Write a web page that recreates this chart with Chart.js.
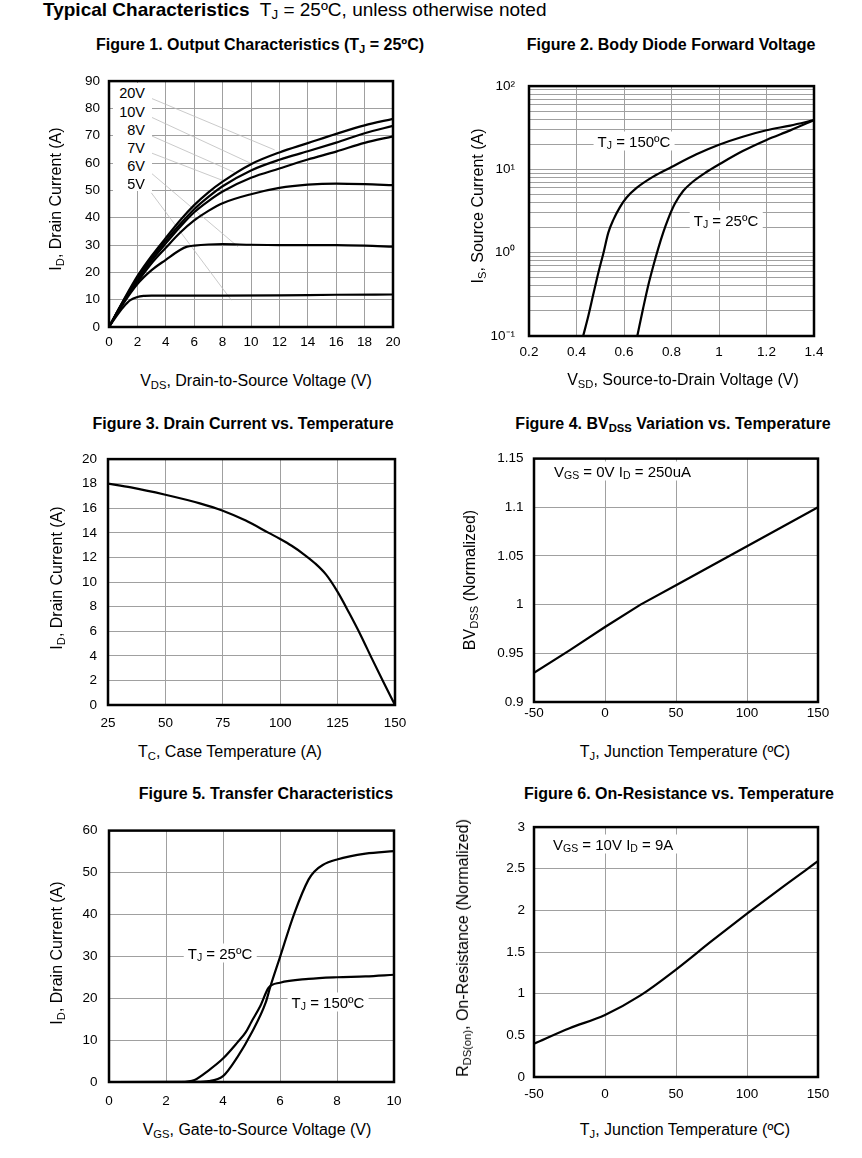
<!DOCTYPE html>
<html><head><meta charset="utf-8">
<script src="https://cdn.jsdelivr.net/npm/chart.js@4.4.1/dist/chart.umd.min.js"></script>
<style>
html,body{margin:0;padding:0;background:#fff;}
body{width:862px;height:1158px;position:relative;overflow:hidden;font-family:"Liberation Sans",Arial,Helvetica,sans-serif;color:#000;}
canvas{position:absolute;}
.t{position:absolute;white-space:nowrap;line-height:1;}
.c{transform:translate(-50%,-50%);}
.l{transform:translate(0,-50%);}
.r{transform:translate(-100%,-50%);}
.rot{transform:translate(-50%,-50%) rotate(-90deg);}
.ft{font-weight:bold;font-size:16px;}
.ax{font-size:16px;}
.an{font-size:15px;background:#fff;padding:2px 4px;}
.lab{font-size:14.5px;}
sub{font-size:0.7em;vertical-align:-0.28em;line-height:0;}
.box{position:absolute;background:#fff;}
</style></head><body>
<div id="charts"></div>

<script>
// ---------------- DATA ----------------
// Figure 1 – Output characteristics
const fig1X   = [0,1,2,3,4,5,6,7,8,10,12,14,16,18,20];
const fig1Id20 = [0,9.6,18.6,26.0,32.6,39.0,44.6,49.3,53.2,59.6,63.9,67.3,70.7,73.8,76.2];
const fig1Id10 = [0,9.4,17.8,25.2,31.6,37.6,43.1,47.6,51.5,57.3,61.2,64.3,67.5,70.9,73.6];
const fig1Id8  = [0,9.2,17.1,24.3,30.6,36.6,42.0,46.1,49.6,54.6,58.0,61.3,64.2,67.4,69.8];
const fig1Id7  = [0,9.0,16.4,23.3,29.0,34.5,39.0,42.5,45.3,48.6,50.9,52.1,52.5,52.3,51.9];
const fig1X6   = [0,1,2,3,4,5,5.5,6,7,8,10,12,14,16,18,20];
const fig1Id6  = [0,8.5,15.7,20.8,24.6,28.2,29.4,29.8,30.2,30.3,30.1,30.0,30.0,30.0,29.8,29.4];
const fig1X5   = [0,0.5,1,1.5,2,2.5,3,4,8,12,16,20];
const fig1Id5  = [0,3.8,7.2,9.8,11.0,11.4,11.5,11.5,11.5,11.6,11.8,11.9];
const fig1Labels = ['20V','10V','8V','7V','6V','5V'];
const fig1LeaderStartX = 2.98;
const fig1LeaderStartY = [83.7,76.8,70.0,63.7,56.3,49.1];
const fig1LeaderEndX   = [11.67,10.03,8.97,8.03,9.08,8.62];
const fig1LeaderEndY   = [64.8,59.8,56.3,53.6,29.4,9.8];
const fig1XTicks = [0,2,4,6,8,10,12,14,16,18,20];
const fig1YTicks = [0,10,20,30,40,50,60,70,80,90];

// Figure 2 – Body diode forward voltage
const fig2X150  = [0.428,0.45,0.47,0.492,0.513,0.534,0.555,0.583,0.611,0.653,0.723,0.80,0.905,1.0,1.1,1.2,1.3,1.4];
const fig2Is150 = [0.1,0.175,0.31,0.575,0.98,1.74,2.48,3.53,4.6,6.0,8.2,10.7,15.2,19.8,24.7,29.5,33.6,39];
const fig2X25   = [0.656,0.681,0.702,0.723,0.744,0.765,0.786,0.814,0.849,0.891,0.947,1.003,1.1,1.2,1.3,1.4];
const fig2Is25  = [0.1,0.218,0.404,0.687,1.12,1.74,2.55,3.86,5.5,7.16,9.3,11.6,16.6,22.6,29.4,39];
const fig2XTicks = [0.2,0.4,0.6,0.8,1.0,1.2,1.4];
const fig2YTicks = [0.1,0.2,0.3,0.4,0.5,0.6,0.7,0.8,0.9,1,2,3,4,5,6,7,8,9,10,20,30,40,50,60,70,80,90,100];
const fig2YLabels = {'0.1':'10\u207B\u00B9','1':'10\u2070','10':'10\u00B9','100':'10\u00B2'};

// Figure 3 – Drain current vs temperature
const fig3T  = [25,35,50,65,75,85,95,100,105,110,115,120,125,130,135,140,145,150];
const fig3Id = [18,17.7,17.1,16.4,15.8,15.0,14.0,13.5,12.95,12.3,11.55,10.6,9.2,7.5,5.7,3.75,1.85,0];
const fig3XTicks = [25,50,75,100,125,150];
const fig3YTicks = [0,2,4,6,8,10,12,14,16,18,20];

// Figure 4 – BVdss variation
const fig4T  = [-50,-25,0,25,50,75,100,125,150];
const fig4BV = [0.93,0.953,0.977,1.0,1.02,1.04,1.06,1.08,1.1];
const fig4XTicks = [-50,0,50,100,150];
const fig4YTicks = [0.9,0.95,1,1.05,1.1,1.15];

// Figure 5 – Transfer characteristics
const fig5V25   = [0,2.5,3,3.5,4,4.5,5,5.5,5.65,6,6.5,7,7.2,7.5,8,9,10];
const fig5Id25  = [0,0,0.02,0.2,1.4,5.9,11.7,19,22.5,29.8,40.2,48.3,50.2,51.8,53.1,54.5,55.1];
const fig5V150  = [0,2.5,3,3.5,4,4.5,4.8,5,5.3,5.6,6,7,8,9,10];
const fig5Id150 = [0,0.05,0.5,2.8,5.6,9.4,11.9,14.4,18.0,22.5,23.7,24.6,25.0,25.2,25.6];
const fig5XTicks = [0,2,4,6,8,10];
const fig5YTicks = [0,10,20,30,40,50,60];

// Figure 6 – On-resistance vs temperature
const fig6T = [-50,-25,0,25,50,75,100,125,150];
const fig6R = [0.4,0.585,0.745,0.98,1.29,1.63,1.96,2.28,2.59];
const fig6XTicks = [-50,0,50,100,150];
const fig6YTicks = [0,0.5,1,1.5,2,2.5,3];

// ---------------- DRAWING ----------------
const FONT = "'Liberation Sans', Arial, Helvetica, sans-serif";
const GRID = '#a0a0a0';
const fmt = v => String(Math.round(v * 1000) / 1000);
const pts = (xs, ys) => xs.map((x, i) => ({x: x, y: ys[i]}));
const curve = (xs, ys) => ({data: pts(xs, ys), borderColor: '#000', borderWidth: 2.2, pointRadius: 0, fill: false, cubicInterpolationMode: 'monotone'});

const framePlugin = {
  id: 'frame',
  afterDatasetsDraw(chart) {
    const a = chart.chartArea, ctx = chart.ctx;
    ctx.save();
    ctx.strokeStyle = '#000';
    ctx.lineWidth = 2.5;
    ctx.strokeRect(a.left, a.top, a.right - a.left, a.bottom - a.top);
    ctx.restore();
  }
};

function build(rect, o) {
  const YW = 70, XH = 36, PT = 12, PR = 28;
  const w = rect.r - rect.l + YW + PR, h = rect.b - rect.t + PT + XH;
  const cv = document.createElement('canvas');
  cv.width = w; cv.height = h;
  cv.style.left = (rect.l - YW) + 'px';
  cv.style.top = (rect.t - PT) + 'px';
  cv.style.width = w + 'px';
  cv.style.height = h + 'px';
  document.getElementById('charts').appendChild(cv);
  const tickFont = {family: FONT, size: 13.5};
  const axis = (a, isX) => ({
    type: a.type || 'linear', min: a.min, max: a.max,
    afterBuildTicks: ax => { ax.ticks = a.ticks.map(v => ({value: v})); },
    afterFit: isX ? (s => { s.height = XH; }) : (s => { s.width = YW; }),
    ticks: {font: tickFont, color: '#000', padding: a.pad, autoSkip: false, maxRotation: 0, minRotation: 0, callback: a.cb || fmt},
    grid: {color: GRID, lineWidth: 1, drawTicks: false, tickLength: 0},
    border: {display: false}
  });
  return new Chart(cv, {
    type: 'line',
    data: {datasets: o.datasets},
    options: {
      responsive: false, animation: false, events: [],
      layout: {padding: {left: 0, right: PR, top: PT, bottom: 0}},
      plugins: {legend: {display: false}, tooltip: {enabled: false}, colors: {enabled: false}},
      scales: {x: axis(o.x, true), y: axis(o.y, false)}
    },
    plugins: [framePlugin]
  });
}

// Figure 1
const leaders = fig1Labels.map((lab, i) => ({
  data: [{x: fig1LeaderStartX, y: fig1LeaderStartY[i]}, {x: fig1LeaderEndX[i], y: fig1LeaderEndY[i]}],
  borderColor: '#bcbcbc', borderWidth: 0.8, pointRadius: 0, tension: 0, fill: false, order: 1
}));
build({l: 109, t: 76, r: 393, b: 327}, {
  x: {min: 0, max: 20, ticks: fig1XTicks, pad: 7.5},
  y: {min: 0, max: 90, ticks: fig1YTicks, pad: 9},
  datasets: [curve(fig1X, fig1Id20), curve(fig1X, fig1Id10), curve(fig1X, fig1Id8), curve(fig1X, fig1Id7),
             curve(fig1X6, fig1Id6), curve(fig1X5, fig1Id5)].concat(leaders)
});

// Figure 2
build({l: 529, t: 76, r: 814, b: 336}, {
  x: {min: 0.2, max: 1.4, ticks: fig2XTicks, pad: 8},
  y: {type: 'logarithmic', min: 0.1, max: 100, ticks: fig2YTicks, pad: 14, cb: v => fig2YLabels[String(v)] || ''},
  datasets: [curve(fig2X150, fig2Is150), curve(fig2X25, fig2Is25)]
});

// Figure 3
build({l: 108, t: 452, r: 395, b: 705}, {
  x: {min: 25, max: 150, ticks: fig3XTicks, pad: 10.2},
  y: {min: 0, max: 20, ticks: fig3YTicks, pad: 11},
  datasets: [curve(fig3T, fig3Id)]
});

// Figure 4
build({l: 534, t: 452, r: 818, b: 702}, {
  x: {min: -50, max: 150, ticks: fig4XTicks, pad: 3.5},
  y: {min: 0.9, max: 1.15, ticks: fig4YTicks, pad: 10.5},
  datasets: [Object.assign(curve(fig4T, fig4BV), {cubicInterpolationMode: 'default', tension: 0})]
});

// Figure 5
build({l: 109, t: 823, r: 394, b: 1082}, {
  x: {min: 0, max: 10, ticks: fig5XTicks, pad: 11},
  y: {min: 0, max: 60, ticks: fig5YTicks, pad: 11.5},
  datasets: [curve(fig5V25, fig5Id25), curve(fig5V150, fig5Id150)]
});

// Figure 6
build({l: 534, t: 822, r: 818, b: 1077}, {
  x: {min: -50, max: 150, ticks: fig6XTicks, pad: 9},
  y: {min: 0, max: 3, ticks: fig6YTicks, pad: 9},
  datasets: [curve(fig6T, fig6R)]
});
</script>

<!-- header -->
<div class="t l" style="left:43px;top:9px;font-size:19px;"><b>Typical Characteristics</b>&nbsp; T<sub>J</sub> = 25ºC, unless otherwise noted</div>

<!-- figure titles -->
<div class="t c ft" style="left:260px;top:45px;">Figure 1. Output Characteristics (T<sub>J</sub> = 25ºC)</div>
<div class="t c ft" style="left:671px;top:45px;">Figure 2. Body Diode Forward Voltage</div>
<div class="t c ft" style="left:243px;top:424px;">Figure 3. Drain Current vs. Temperature</div>
<div class="t c ft" style="left:673px;top:424px;">Figure 4. BV<sub>DSS</sub> Variation vs. Temperature</div>
<div class="t c ft" style="left:266px;top:794px;">Figure 5. Transfer Characteristics</div>
<div class="t c ft" style="left:679px;top:794px;">Figure 6. On-Resistance vs. Temperature</div>

<!-- x axis titles -->
<div class="t c ax" style="left:256px;top:381px;">V<sub>DS</sub>, Drain-to-Source Voltage (V)</div>
<div class="t c ax" style="left:683px;top:380px;">V<sub>SD</sub>, Source-to-Drain Voltage (V)</div>
<div class="t c ax" style="left:230px;top:752px;">T<sub>C</sub>, Case Temperature (A)</div>
<div class="t c ax" style="left:685px;top:752px;">T<sub>J</sub>, Junction Temperature (ºC)</div>
<div class="t c ax" style="left:257px;top:1130px;">V<sub>GS</sub>, Gate-to-Source Voltage (V)</div>
<div class="t c ax" style="left:685px;top:1130px;">T<sub>J</sub>, Junction Temperature (ºC)</div>

<!-- y axis titles -->
<div class="t rot ax" style="left:56px;top:199px;">I<sub>D</sub>, Drain Current (A)</div>
<div class="t rot ax" style="left:478px;top:206px;">I<sub>S</sub>, Source Current (A)</div>
<div class="t rot ax" style="left:57px;top:578px;">I<sub>D</sub>, Drain Current (A)</div>
<div class="t rot ax" style="left:470px;top:580px;">BV<sub>DSS</sub> (Normalized)</div>
<div class="t rot ax" style="left:57px;top:953px;">I<sub>D</sub>, Drain Current (A)</div>
<div class="t rot ax" style="left:463px;top:948px;">R<sub>DS(on)</sub>, On-Resistance (Normalized)</div>

<!-- figure 1 labels -->
<div class="box" style="left:113px;top:83px;width:39px;height:108px;"></div>
<div class="t r lab" style="left:145px;top:93px;">20V</div>
<div class="t r lab" style="left:145px;top:111.5px;">10V</div>
<div class="t r lab" style="left:145px;top:129.5px;">8V</div>
<div class="t r lab" style="left:145px;top:147.5px;">7V</div>
<div class="t r lab" style="left:145px;top:165.5px;">6V</div>
<div class="t r lab" style="left:145px;top:183.5px;">5V</div>

<!-- figure 2 annotations -->
<div class="t c an" style="left:634px;top:141px;">T<sub>J</sub> = 150ºC</div>
<div class="t c an" style="left:726px;top:220px;">T<sub>J</sub> = 25ºC</div>

<!-- figure 4 annotation -->
<div class="t l an" style="left:550px;top:471px;">V<sub>GS</sub> = 0V I<sub>D</sub> = 250uA</div>

<!-- figure 5 annotations -->
<div class="t c an" style="left:220px;top:953px;">T<sub>J</sub> = 25ºC</div>
<div class="t c an" style="left:328px;top:1002px;">T<sub>J</sub> = 150ºC</div>

<!-- figure 6 annotation -->
<div class="t l an" style="left:549px;top:844px;">V<sub>GS</sub> = 10V I<sub>D</sub> = 9A</div>
</body></html>
